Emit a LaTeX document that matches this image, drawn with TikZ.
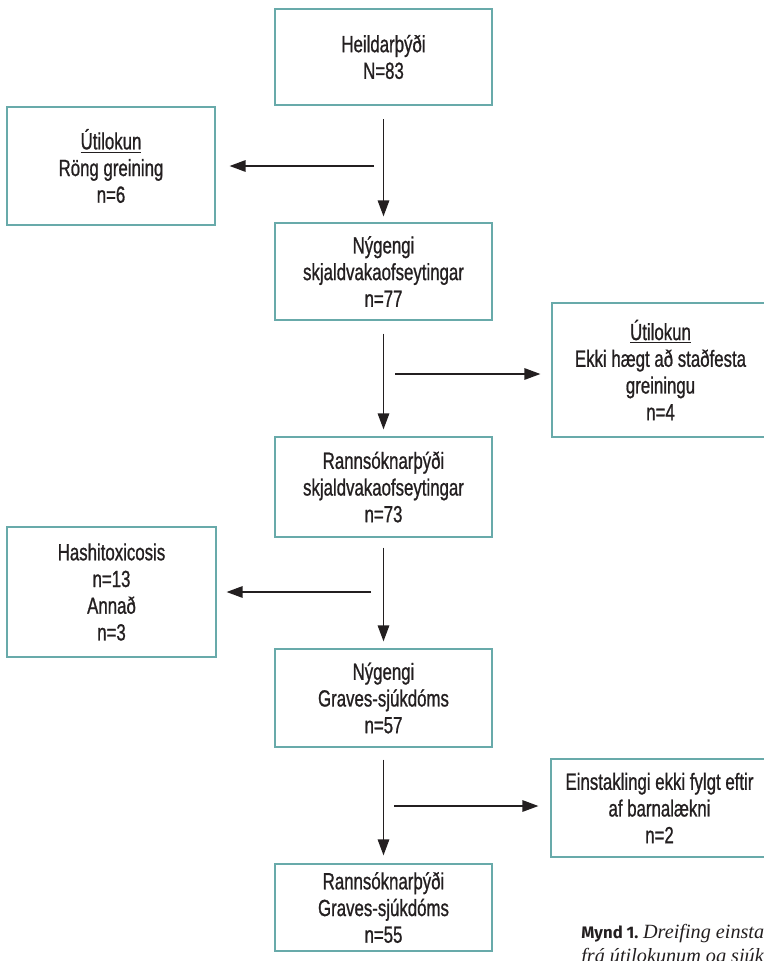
\documentclass[tikz,border=0pt]{standalone}
\usepackage{fontspec}
\setmainfont{Liberation Sans}[FakeStretch=0.72,FakeBold=0.9]
\newfontfamily\mfigsans{Fira Sans}
\newfontfamily\mfigserif{Liberation Serif}
\usetikzlibrary{arrows.meta}
\definecolor{boxline}{RGB}{104,170,170}
\definecolor{ink}{RGB}{35,31,32}
\tikzset{
  flowbox/.style={draw=boxline, line width=0.7pt, align=center, text=ink,
    font=\fontsize{13.3}{15.2}\selectfont, inner sep=0pt},
  flowarrow/.style={-{Triangle[length=0.32cm,width=0.23cm]}, line width=0.8pt, draw=ink},
}
\begin{document}
\begin{tikzpicture}[x=0.02cm,y=-0.02cm]
  \useasboundingbox (0,0) rectangle (764,961);
  % main column
  \node[flowbox, minimum width=4.34cm, minimum height=1.92cm] (total) at (383.5,57) {Heildarþýði\\N=83};
  \node[flowbox, minimum width=4.34cm, minimum height=1.94cm] (incid) at (383.5,271.5) {Nýgengi\\skjaldvakaofseytingar\\n=77};
  \node[flowbox, minimum width=4.34cm, minimum height=2.00cm] (study) at (383.5,487) {Rannsóknarþýði\\skjaldvakaofseytingar\\n=73};
  \node[flowbox, minimum width=4.34cm, minimum height=1.96cm] (graves) at (383.5,698) {Nýgengi\\Graves-sjúkdóms\\n=57};
  \node[flowbox, minimum width=4.34cm, minimum height=1.74cm] (gstudy) at (383.5,907.5) {Rannsóknarþýði\\Graves-sjúkdóms\\n=55};
  % side boxes
  \node[flowbox, minimum width=4.16cm, minimum height=2.36cm] (wrongdx) at (111,166) {\underline{Útilokun}\\Röng greining\\n=6};
  \node[flowbox, minimum width=4.34cm, minimum height=2.68cm] (noconf) at (660.5,370) {\underline{Útilokun}\\Ekki hægt að staðfesta\\greiningu\\n=4};
  \node[flowbox, minimum width=4.18cm, minimum height=2.60cm] (hashi) at (111.5,592) {Hashitoxicosis\\n=13\\Annað\\n=3};
  \node[flowbox, minimum width=4.34cm, minimum height=1.96cm] (nofollow) at (659.5,808) {Einstaklingi ekki fylgt eftir\\af barnalækni\\n=2};
  % vertical arrows
  \draw[flowarrow, shorten <=0.27cm, shorten >=0.12cm] (total) -- (incid);
  \draw[flowarrow, shorten <=0.26cm, shorten >=0.14cm] (incid) -- (study);
  \draw[flowarrow, shorten <=0.2cm, shorten >=0.14cm] (study) -- (graves);
  \draw[flowarrow, shorten <=0.24cm, shorten >=0.16cm] (graves) -- (gstudy);
  % side arrows
  \coordinate (exclA) at (374,166);
  \coordinate (exclB) at (395,374);
  \coordinate (exclC) at (371,592);
  \coordinate (exclD) at (394,806);
  \draw[flowarrow, shorten >=0.28cm] (exclA) -- (exclA -| wrongdx.east);
  \draw[flowarrow, shorten >=0.22cm] (exclB) -- (exclB -| noconf.west);
  \draw[flowarrow, shorten >=0.2cm] (exclC) -- (exclC -| hashi.east);
  \draw[flowarrow, shorten >=0.24cm] (exclD) -- (exclD -| nofollow.west);
  % caption
  \node[anchor=base west, inner sep=0pt, text=ink] (caption) at (581,938)
    {{\mfigsans\bfseries\fontsize{9.5}{11}\selectfont Mynd 1.} {\mfigserif\itshape\fontsize{11.5}{13}\selectfont Dreifing einstaklinga}};
  \node[anchor=base west, inner sep=0pt, text=ink] (captiontwo) at (581,962)
    {\mfigserif\itshape\fontsize{11.5}{13}\selectfont frá útilokunum og sjúkdómum};
\end{tikzpicture}
\end{document}
